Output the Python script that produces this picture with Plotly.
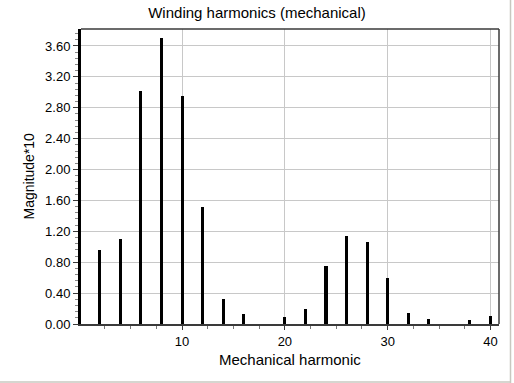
import plotly.graph_objects as go

harmonics = [2, 4, 6, 8, 10, 12, 14, 16, 18, 20, 22, 24, 26, 28, 30, 32, 34, 36, 38, 40]
magnitudes = [0.96, 1.10, 3.02, 3.70, 2.95, 1.51, 0.32, 0.125, 0.0, 0.095,
              0.20, 0.75, 1.14, 1.06, 0.60, 0.14, 0.065, 0.0, 0.05, 0.11]
y_ticks = [0.0, 0.4, 0.8, 1.2, 1.6, 2.0, 2.4, 2.8, 3.2, 3.6]
x_ticks = [10, 20, 30, 40]

FONT = "Liberation Sans, Arial, sans-serif"

fig = go.Figure()
fig.add_trace(go.Bar(x=harmonics, y=magnitudes, width=0.3,
                     marker=dict(color="black", line=dict(width=0)),
                     hoverinfo="x+y"))

fig.update_layout(
    width=514, height=383,
    margin=dict(l=81, r=15, t=29, b=59),
    paper_bgcolor="white", plot_bgcolor="white",
    showlegend=False,
    font=dict(family=FONT, size=12, color="black"),
    title=dict(text="Winding harmonics (mechanical)", x=0.5, xref="container",
               y=1 - 13 / 383, yref="container", yanchor="middle", xanchor="center",
               font=dict(family=FONT, size=15, color="black")),
    bargap=0,
)

fig.update_xaxes(
    range=[0.17, 40.83], tickvals=x_ticks, ticktext=[str(v) for v in x_ticks],
    showgrid=True, gridcolor="#c8c8c8", gridwidth=1,
    showline=True, linecolor="#3a3a3a", linewidth=2, mirror=False,
    ticks="outside", ticklen=4, tickcolor="#3a3a3a", tickwidth=1,
    minor=dict(dtick=2.5, tick0=0, ticks="outside", ticklen=3, tickcolor="#777777", showgrid=False),
    zeroline=False, tickfont=dict(family=FONT, size=13, color="black"),
)
fig.update_yaxes(
    range=[0, 3.82], tickvals=y_ticks, ticktext=[f"{v:.2f}" for v in y_ticks],
    showgrid=True, gridcolor="#c8c8c8", gridwidth=1,
    showline=True, linecolor="black", linewidth=3, mirror=False,
    ticks="outside", ticklen=5, tickcolor="#3a3a3a", tickwidth=1,
    minor=dict(dtick=0.08, tick0=0, ticks="outside", ticklen=3, tickcolor="#888888", showgrid=False),
    zeroline=False, tickfont=dict(family=FONT, size=13, color="black"),
)

# plot frame (top and right)
fig.add_shape(type="line", xref="paper", yref="paper", x0=0, x1=1, y0=1, y1=1,
              line=dict(color="#3a3a3a", width=1.5))
fig.add_shape(type="line", xref="paper", yref="paper", x0=1, x1=1, y0=0, y1=1,
              line=dict(color="#3a3a3a", width=1.5))
# outer light border (right and bottom)
fig.add_shape(type="line", xref="paper", yref="paper",
              x0=(510.5 - 81) / 418, x1=(510.5 - 81) / 418, y0=(324 - 383) / 295, y1=(324) / 295,
              line=dict(color="#c8c8c0", width=1.5))
fig.add_shape(type="line", xref="paper", yref="paper",
              x0=-81 / 418, x1=(511 - 81) / 418, y0=(324 - 382) / 295, y1=(324 - 382) / 295,
              line=dict(color="#c8c8c0", width=1.5))

# axis titles
fig.add_annotation(text="Mechanical harmonic", xref="paper", yref="paper",
                   x=0.5, y=(324 - 359) / 295, xanchor="center", yanchor="middle",
                   showarrow=False, font=dict(family=FONT, size=15, color="black"))
fig.add_annotation(text="Magnitude*10", xref="paper", yref="paper",
                   x=(28 - 81) / 418, y=0.5, xanchor="center", yanchor="middle", textangle=-90,
                   showarrow=False, font=dict(family=FONT, size=14, color="black"))

fig.write_html("out.html")
